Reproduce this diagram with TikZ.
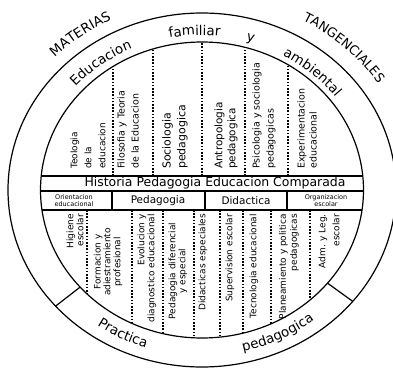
\documentclass[tikz,border=0pt]{standalone}
\usepackage{fontspec}
\setmainfont{DejaVu Sans}
\usetikzlibrary{decorations.text}

\tikzset{
  rim/.style={black, line width=1.2bp},
  divline/.style={black, line width=1.2bp, dash pattern=on 1.6bp off 1.6bp},
  colup/.style={rotate=90, anchor=west, align=left, font=\fontsize{9.5}{14}\selectfont},
  coldown/.style={rotate=90, anchor=east, align=right, font=\fontsize{9}{10}\selectfont},
  arctext/.style={decorate, decoration={text along path, text align=center,
    text={|\fontsize{13.5}{13.5}\selectfont|#1}}}
}

\begin{document}
\begin{tikzpicture}[x=1bp, y=1bp]
	\tikzstyle{every node}+=[inner sep=0pt]
	\useasboundingbox (-202,-181) rectangle (191,190);
	\draw [rim] (0,0) ellipse [x radius=194, y radius=177];
	\draw [rim] (0,0) ellipse [x radius=161.5, y radius=148];
	\draw [rim] (221:161.5 and 148) -- (221:194 and 177);
	\draw [rim] (321:161.5 and 148) -- (321:194 and 177);
	\begin{scope}
	\clip (0,0) ellipse [x radius=161.5, y radius=148];
	\draw [rim] (-170,14) -- (170,14) (-170,-1) -- (170,-1) (-170,-20) -- (170,-20);
	\foreach \x in {-89,-49,0,43,86}
		\draw [divline] (\x,14) -- (\x,160);
	\foreach \x in {-115,-70,-39,-8,18,41,69,108}
		\draw [divline] (\x,-20) -- (\x,-160);
	\end{scope}
	\foreach \x in {-90,3,85}
		\draw [rim] (\x,-1) -- (\x,-20);
	% curved band texts
	\path [arctext=MATERIAS] (151:207 and 189) arc [start angle=151, end angle=101, x radius=207, y radius=189];
	\path [arctext=TANGENCIALES, decoration={text={|\fontsize{13}{13}\selectfont|TANGENCIALES}}] (77:211 and 193) arc [start angle=77, end angle=17, x radius=211, y radius=193];
	\path [arctext=Educacion] (151.5:170 and 155) arc [start angle=151.5, end angle=101.5, x radius=170, y radius=155];
	\path [arctext=familiar] (117.5:170 and 155) arc [start angle=117.5, end angle=67.5, x radius=170, y radius=155];
	\path [arctext=y] (88.6:170 and 155) arc [start angle=88.6, end angle=58.6, x radius=170, y radius=155];
	\path [arctext=ambiental] (74:168 and 153) arc [start angle=74, end angle=24, x radius=168, y radius=153];
	\path [arctext=Practica] (218:181 and 166) arc [start angle=218, end angle=268, x radius=181, y radius=166];
	\path [arctext=pedagogica] (271:181 and 166) arc [start angle=271, end angle=321, x radius=181, y radius=166];
	% rows
	\node [font=\fontsize{12.5}{12.5}\selectfont] (historia) at (13,6.5) {Historia Pedagogia Educacion Comparada};
	\node [font=\fontsize{6.5}{7}\selectfont, align=center] (orientacion) at (-128,-10.5) {Orientacion\\educacional};
	\node [font=\fontsize{10.5}{10.5}\selectfont] (pedagogia) at (-44,-10.5) {Pedagogia};
	\node [font=\fontsize{10.5}{10.5}\selectfont] (didactica) at (44,-10.5) {Didactica};
	\node [font=\fontsize{6.5}{7}\selectfont, align=center] (organizacion) at (124,-10.5) {Organizacion\\escolar};
	% upper columns
	\node [colup, font=\fontsize{9}{14}\selectfont] (teologia) at (-114,21) {Teologia\\de la\\educacion};
	\node [colup] (filosofia) at (-74,21) {Filosofia y Teoria\\de la Educacion};
	\node [colup, font=\fontsize{11}{15}\selectfont] (sociologia) at (-27,21) {Sociologia\\pedagogica};
	\node [colup, font=\fontsize{10.5}{13}\selectfont] (antropologia) at (24,21) {Antropologia\\pedagogica};
	\node [colup] (psicologia) at (62,21) {Psicologia y sociologia\\pedagogicas};
	\node [colup, font=\fontsize{9.5}{12}\selectfont] (experimentacion) at (105,21) {Experimentacion\\educacional};
	% lower columns
	\node [coldown] (higiene) at (-127,-24) {Higiene\\escolar};
	\node [coldown, anchor=center, align=center] (formacion) at (-94,-72) {Formacion y\\adiestramiento\\profesional};
	\node [coldown] (evolucion) at (-55,-24) {Evolucion y\\diagnostico educacional};
	\node [coldown, anchor=center, align=center] (diferencial) at (-24,-81) {Pedagogia diferencial\\y especial};
	\node [coldown] (especiales) at (1,-24) {Didacticas especiales};
	\node [coldown] (supervision) at (28,-24) {Supervision escolar};
	\node [coldown] (tecnologia) at (52,-24) {Tecnologia educacional};
	\node [coldown, font=\fontsize{9}{11}\selectfont] (planeamiento) at (87,-24) {Planeamiento y politica\\pedagogicas};
	\node [coldown, font=\fontsize{9}{14}\selectfont] (admleg) at (127,-24) {Adm. y Leg.\\escolar};
\end{tikzpicture}
\end{document}
